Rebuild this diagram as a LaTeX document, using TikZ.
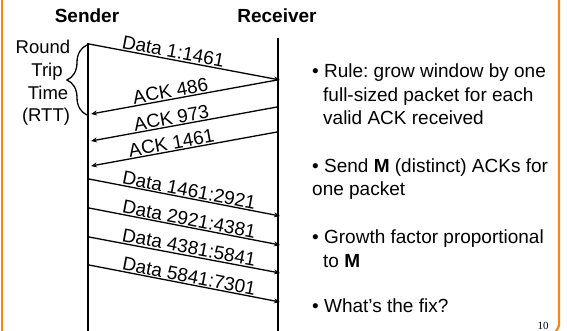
\documentclass[tikz,border=0pt]{standalone}
\usepackage{fontspec}
\setmainfont{Liberation Sans}
\newfontfamily\serifnum{Liberation Serif}
\usetikzlibrary{arrows.meta,decorations.pathreplacing}
\definecolor{slideorange}{RGB}{247,134,22}
\tikzset{
  frame/.style={draw=slideorange,line width=2.2pt},
  lifeline/.style={draw=black,line width=2pt},
  msg/.style={draw=black,line width=1.3pt,-{Stealth[length=6pt,width=5pt]}},
  msglabel/.style={sloped,anchor=south,inner sep=1pt,font=\fontsize{19}{19}\selectfont},
  heading/.style={font=\bfseries\fontsize{19}{19}\selectfont,anchor=base,inner sep=0pt},
  side/.style={font=\fontsize{18.5}{18.5}\selectfont,anchor=base,inner sep=0pt},
  bullet/.style={font=\fontsize{19}{19}\selectfont\frenchspacing,anchor=base west,inner sep=0pt},
}
\begin{document}
\begin{tikzpicture}[x=1pt,y=1pt]
\useasboundingbox (0,-331) rectangle (567,0);

% slide frame
\draw[frame] (2,0) -- (2,-331);
\draw[frame] (559,0) -- (559,-325) to[out=-90,in=60] (556,-331);

% column headings
\node[heading] (sender) at (87,-23) {Sender};
\node[heading] (receiver) at (277,-23) {Receiver};

% lifelines
\coordinate (stop) at (88,-43);
\coordinate (sbot) at (88,-331);
\coordinate (rtop) at (278,-38);
\coordinate (rbot) at (278,-331);
\draw[lifeline] (stop) -- (sbot);
\draw[lifeline] (rtop) -- (rbot);

% message end points on the lifelines
\coordinate (s1) at (89,-44);   \coordinate (r1) at (280,-80);
\coordinate (ra) at (277,-80);  \coordinate (sa) at (91,-114);
\coordinate (rb) at (277,-107); \coordinate (sb) at (91,-141);
\coordinate (rc) at (277,-132); \coordinate (sc) at (91,-166);
\coordinate (s2) at (89,-179);  \coordinate (r2) at (280,-216);
\coordinate (s3) at (89,-208);  \coordinate (r3) at (280,-245);
\coordinate (s4) at (89,-237);  \coordinate (r4) at (280,-273);
\coordinate (s5) at (89,-265);  \coordinate (r5) at (280,-302);

% messages
\draw[msg] (s1) -- node[msglabel,pos=0.434] (l1) {Data 1:1461} (r1);
\draw[msg] (ra) -- node[msglabel,pos=0.565] (la) {ACK 486} (sa);
\draw[msg] (rb) -- node[msglabel,pos=0.56] (lb) {ACK 973} (sb);
\draw[msg] (rc) -- node[msglabel,pos=0.56] (lc) {ACK 1461} (sc);
\draw[msg] (s2) -- node[msglabel,pos=0.516] (l2) {Data 1461:2921} (r2);
\draw[msg] (s3) -- node[msglabel,pos=0.516] (l3) {Data 2921:4381} (r3);
\draw[msg] (s4) -- node[msglabel,pos=0.516] (l4) {Data 4381:5841} (r4);
\draw[msg] (s5) -- node[msglabel,pos=0.516] (l5) {Data 5841:7301} (r5);

% round trip time brace
\coordinate (btop) at (87,-45);
\coordinate (bbot) at (87,-115);
\draw[line width=1.3pt,decorate,decoration={brace,amplitude=20pt,aspect=0.5}] (bbot) -- (btop);
\node[side] (round) at (43,-54) {Round};
\node[side] (trip) at (47,-77) {Trip};
\node[side] (time) at (48,-100) {Time};
\node[side] (rtt) at (46,-122) {(RTT)};

% bullet points
\node[bullet] (b1a) at (312,-78) {\textbullet\ Rule: grow window by one};
\node[bullet] (b1b) at (323,-102) {full-sized packet for each};
\node[bullet] (b1c) at (323,-125) {valid ACK received};
\node[bullet] (b2a) at (312,-172) {\textbullet\ Send \textbf{M} (distinct) ACKs for};
\node[bullet] (b2b) at (312,-195) {one packet};
\node[bullet] (b3a) at (312,-243) {\textbullet\ Growth factor proportional};
\node[bullet] (b3b) at (323,-267) {to \textbf{M}};
\node[bullet] (b4a) at (312,-312) {\textbullet\ What’s the fix?};

% page number
\node[font=\serifnum\fontsize{11}{11}\selectfont,anchor=base,inner sep=0pt] (pageno) at (543,-329) {10};
\end{tikzpicture}
\end{document}
